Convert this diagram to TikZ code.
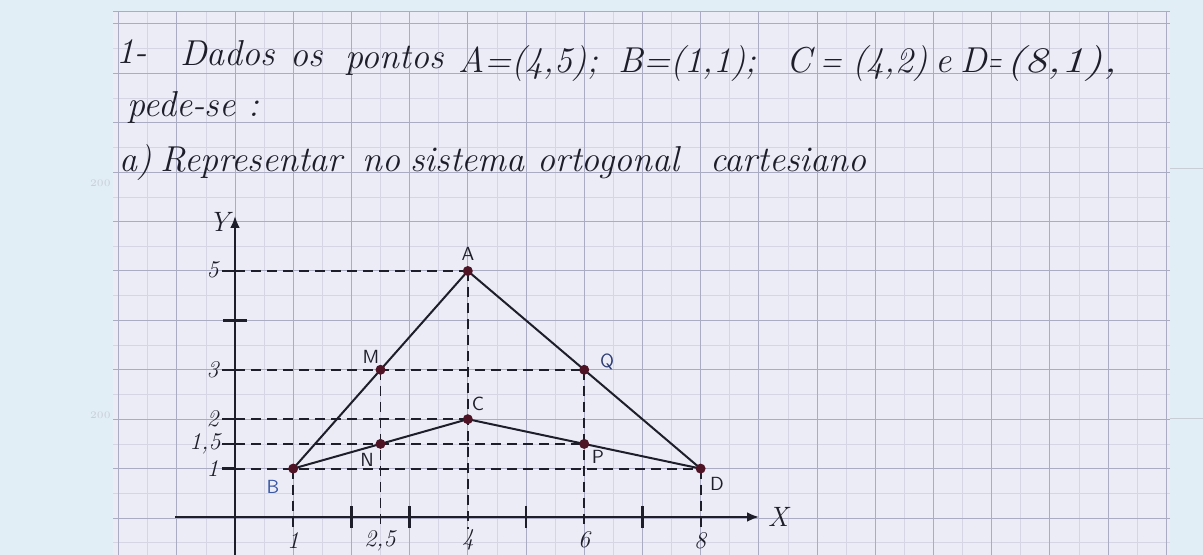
\documentclass[tikz,border=0pt]{standalone}
\usetikzlibrary{arrows.meta}
\definecolor{bgc}{HTML}{E1EEF6}
\definecolor{paper}{HTML}{ECECF7}
\definecolor{gmaj}{HTML}{ABABC3}
\definecolor{gmin}{HTML}{D5D5E5}
\definecolor{ink}{HTML}{1E1E2A}
\definecolor{dotc}{HTML}{4E1426}
\definecolor{lblblue}{HTML}{3A58A6}
\definecolor{lbldark}{HTML}{2E3E74}
\definecolor{faint}{HTML}{C9CDD6}
\begin{document}
\begin{tikzpicture}[x=0.5pt,y=-0.5pt,
  hw/.style={font=\fontsize{18}{20}\selectfont\itshape, text=ink, anchor=base west, inner sep=0pt},
  tl/.style={font=\fontsize{12}{14}\selectfont\itshape, text=ink, inner sep=0pt},
  axl/.style={font=\fontsize{14}{16}\selectfont\itshape, text=ink, inner sep=0pt},
  pl/.style={font=\fontsize{9.5}{11}\selectfont\sffamily, text=ink, inner sep=0pt},
  dot/.style={circle, fill=dotc, minimum size=5pt, inner sep=0pt},
  axisline/.style={line width=1.4pt, draw=ink, -{Latex[length=6pt,width=5pt]}},
  edgeline/.style={line width=1pt, draw=ink},
  guide/.style={line width=0.9pt, draw=ink, dash pattern=on 5pt off 3pt},
  tickline/.style={line width=1.2pt, draw=ink},
  gridmaj/.style={draw=gmaj, line width=0.5pt},
  gridmin/.style={draw=gmin, line width=0.3pt}]
% background and paper
\fill[bgc] (0,0) rectangle (1203,555);
\useasboundingbox (0,0) rectangle (1203,555);
\clip (0,0) rectangle (1203,555);
\fill[paper] (113,12) rectangle (1170,560);
\draw[faint, line width=0.4pt] (1170,168) -- (1203,168);
\draw[faint, line width=0.4pt] (1170,418) -- (1203,418);
\node[font=\fontsize{5}{6}\selectfont, text=faint, anchor=east, inner sep=0pt] (f1) at (111,183) {200};
\node[font=\fontsize{5}{6}\selectfont, text=faint, anchor=east, inner sep=0pt] (f2) at (111,415) {200};
% grid
\foreach \k in {-2,...,15} \draw[gridmin] ({235+58.2*(\k+0.5)},12) -- ({235+58.2*(\k+0.5)},560);
\foreach \k in {-1,...,9} \draw[gridmin] (113,{518-49.4*(\k+0.5)}) -- (1170,{518-49.4*(\k+0.5)});
\foreach \k in {-2,...,16} \draw[gridmaj] ({235+58.2*\k},12) -- ({235+58.2*\k},560);
\foreach \k in {-1,...,10} \draw[gridmaj] (113,{518-49.4*\k}) -- (1170,{518-49.4*\k});
\draw[gridmaj] (113,12) -- (1170,12);
% handwritten statement
\node[hw] (t1) at (116,64) {1-};
\node[hw] (t2) at (180,66) {Dados};
\node[hw] (t3) at (290,67) {os};
\node[hw] (t4) at (345,69) {pontos};
\node[hw] (t5) at (458,73) {A=(4,5);};
\node[hw] (t6) at (618,73) {B=(1,1);};
\node[hw] (t7) at (786,73) {C};
\node[hw] (t8) at (820,73) {\scalebox{0.8}[1]{=}};
\node[hw] (t9) at (852,73) {(4,2)};
\node[hw] (t10) at (935,73) {e};
\node[hw] (t11) at (960,73) {D};
\node[hw] (t12) at (988,73) {\scalebox{0.5}[1]{=}};
\node[hw] (t13) at (1006,73) {\scalebox{1.28}[1]{(8,1),}};
\node[hw] (t14) at (127,117) {pede-se :};
\node[hw] (t15) at (119,172) {a)};
\node[hw] (t16) at (160,172) {Representar};
\node[hw] (t17) at (362,172) {no};
\node[hw] (t18) at (410,172) {sistema};
\node[hw] (t19) at (537,172) {ortogonal};
\node[hw] (t20) at (710,172) {cartesiano};
% points
\coordinate (A) at (467.8,271);
\coordinate (B) at (293.2,468.6);
\coordinate (C) at (467.8,419.2);
\coordinate (D) at (700.6,468.6);
\coordinate (M) at (380.5,369.8);
\coordinate (N) at (380.5,443.9);
\coordinate (Q) at (584.2,369.8);
\coordinate (P) at (584.2,443.9);
% axis reference coordinates
\coordinate (yb) at (235,560);
\coordinate (yt) at (235,216);
\coordinate (xl) at (175,517);
\coordinate (xr) at (759,517);
\coordinate (g5) at (235,271);
\coordinate (g3) at (235,369.8);
\coordinate (g2) at (235,419.2);
\coordinate (g15) at (235,443.9);
\coordinate (g1) at (235,468.6);
\coordinate (k5) at (222,271);
\coordinate (k3) at (222,369.8);
\coordinate (k2) at (222,419.2);
\coordinate (k15) at (222,443.9);
\coordinate (k1) at (222,468.6);
\coordinate (k4a) at (223,320.4);
\coordinate (k4b) at (247,320.4);
\coordinate (h1) at (293.2,529);
\coordinate (h25) at (380.5,529);
\coordinate (h4) at (467.8,529);
\coordinate (h6) at (584.2,529);
\coordinate (h8) at (700.6,529);
% dashed guides
\draw[guide] (g5) -- (A);
\draw[guide] (g3) -- (Q);
\draw[guide] (g2) -- (C);
\draw[guide] (g15) -- (P);
\draw[guide] (g1) -- (D);
\draw[guide] (B) -- (h1);
\draw[guide] (M) -- (h25);
\draw[guide] (A) -- (h4);
\draw[guide] (Q) -- (h6);
\draw[guide] (D) -- (h8);
% axes
\draw[axisline] (yb) -- (yt);
\draw[axisline] (xl) -- (xr);
% ticks
\draw[tickline] (k5) -- (g5);
\draw[tickline] (k3) -- (g3);
\draw[tickline] (k2) -- (g2);
\draw[tickline] (k15) -- (g15);
\draw[tickline] (k1) -- (g1);
\draw[tickline] (k4a) -- (k4b);
\foreach \xx in {351.4,409.6,526,642.4} \draw[tickline] (\xx,506) -- (\xx,528);
% triangle edges
\draw[edgeline] (B) -- (A);
\draw[edgeline] (A) -- (D);
\draw[edgeline] (B) -- (C);
\draw[edgeline] (C) -- (D);
% dots
\foreach \p in {A,B,C,D,M,N,Q,P} \node[dot] (d\p) at (\p) {};
% axis labels
\node[axl] (ly) at (219,222) {Y};
\node[axl] (lx) at (778,517) {X};
\node[tl, anchor=east] (l5) at (219,270) {5};
\node[tl, anchor=east] (l3) at (219,370) {3};
\node[tl, anchor=east] (l2) at (219,419) {2};
\node[tl, anchor=east] (l15) at (221,444) {1,5};
\node[tl, anchor=east] (l1) at (219,469) {1};
\node[tl] (m1) at (293,541) {1};
\node[tl] (m25) at (380,541) {2,5};
\node[tl] (m4) at (468,540) {4};
\node[tl] (m6) at (584,540) {6};
\node[tl] (m8) at (700,541) {8};
% point labels
\node[pl] (pA) at (468,254) {A};
\node[pl] (pM) at (371,357) {M};
\node[pl] (pC) at (478,404) {C};
\node[pl] (pN) at (367,460) {N};
\node[pl, text=lblblue] (pB) at (273,487) {B};
\node[pl, text=lbldark] (pQ) at (607,362) {Q};
\node[pl] (pP) at (598,457) {P};
\node[pl] (pD) at (717,484) {D};
\end{tikzpicture}
\end{document}
